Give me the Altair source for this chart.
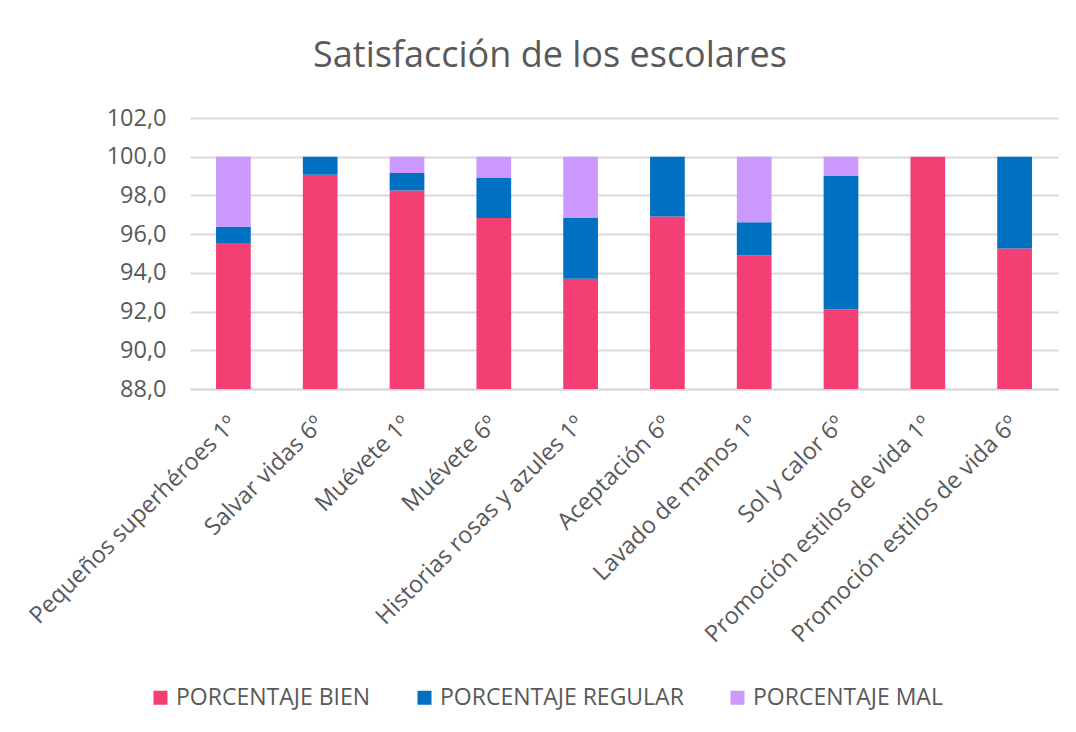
import altair as alt
import pandas as pd

categories = [
    "Pequeños superhéroes 1º",
    "Salvar vidas 6º",
    "Muévete 1º",
    "Muévete 6º",
    "Historias rosas y azules 1º",
    "Aceptación  6º",
    "Lavado de manos 1º",
    "Sol y calor 6º",
    "Promoción estilos de vida 1º",
    "Promoción estilos de vida 6º",
]
bien = [95.50, 99.07, 98.26, 96.84, 93.69, 96.91, 94.90, 92.12, 100.00, 95.26]
regular = [0.88, 0.93, 0.90, 2.09, 3.15, 3.09, 1.72, 6.88, 0.00, 4.74]
mal = [3.62, 0.00, 0.84, 1.07, 3.16, 0.00, 3.38, 1.00, 0.00, 0.00]

series = ["PORCENTAJE BIEN", "PORCENTAJE REGULAR", "PORCENTAJE MAL"]
colors = ["#F43F75", "#0070C0", "#CC99FF"]
y_ticks = [88, 90, 92, 94, 96, 98, 100, 102]

rows = []
for i, c in enumerate(categories):
    for k, (s, vals) in enumerate(zip(series, [bien, regular, mal])):
        rows.append({"cat": c, "serie": s, "valor": vals[i], "orden": k})
df = pd.DataFrame(rows)

FONT = "Open Sans"
GREY = "#595959"

chart = (
    alt.Chart(df)
    .mark_bar(clip=True)
    .encode(
        x=alt.X(
            "cat:N",
            sort=categories,
            title=None,
            scale=alt.Scale(paddingInner=0.6, paddingOuter=0.3),
            axis=alt.Axis(
                labelAngle=-45,
                labelAlign="right",
                labelBaseline="middle",
                labelPadding=31,
                labelFontSize=23.5,
                labelColor=GREY,
                labelFont=FONT,
                labelLimit=400,
                ticks=False,
                domainColor="#D9D9D9",
                domainWidth=2,
                grid=False,
            ),
        ),
        y=alt.Y(
            "valor:Q",
            stack="zero",
            title=None,
            scale=alt.Scale(domain=[88, 102], zero=False, nice=False),
            axis=alt.Axis(
                values=y_ticks,
                labelExpr="replace(format(datum.value, '.1f'), '.', ',')",
                labelFontSize=23.5,
                labelColor=GREY,
                labelFont=FONT,
                labelPadding=24,
                ticks=False,
                domain=False,
                gridColor="#D9D9D9",
                gridWidth=2,
            ),
        ),
        color=alt.Color(
            "serie:N",
            scale=alt.Scale(domain=series, range=colors),
            title=None,
            legend=alt.Legend(
                orient="none",
                direction="horizontal",
                legendX=-41,
                legendY=568,
                symbolType="square",
                symbolSize=196,
                symbolStrokeWidth=0,
                labelFontSize=23,
                labelFont=FONT,
                labelColor=GREY,
                labelOffset=4,
                columnPadding=42,
                labelLimit=400,
            ),
        ),
        order=alt.Order("orden:Q", sort="ascending"),
    )
    .properties(
        width=868,
        height=271,
        title=alt.TitleParams(
            "Satisfacción de los escolares",
            font=FONT,
            fontSize=36,
            fontWeight="normal",
            color=GREY,
            anchor="middle",
            frame="group",
            dx=-74,
            offset=31,
        ),
        autosize=alt.AutoSizeParams(type="none"),
        padding={"left": 182, "top": 110, "right": 10, "bottom": 335},
    )
    .configure_view(stroke=None)
)

chart.save("out.html", embed_options={"renderer": "svg", "actions": False})
